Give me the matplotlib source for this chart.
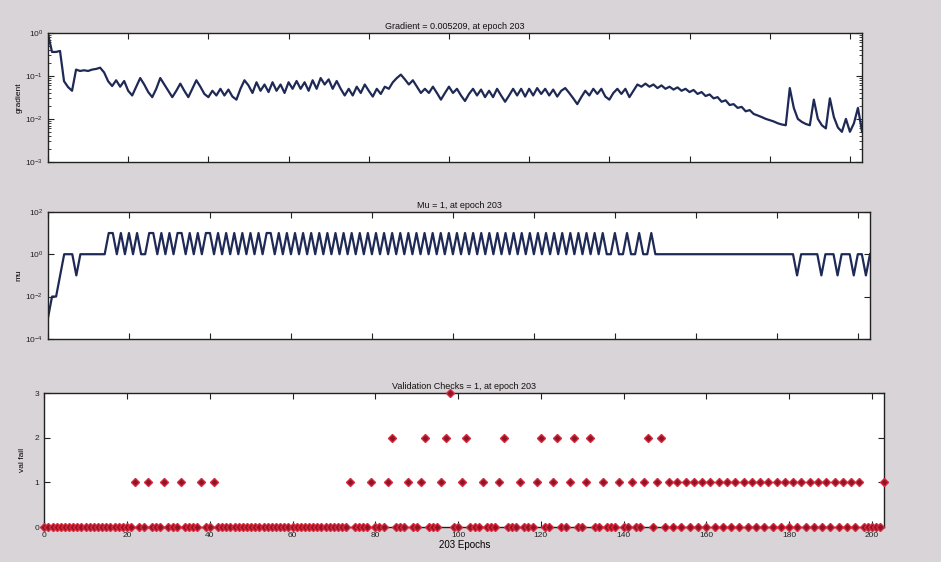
import matplotlib
matplotlib.use('Agg')
import matplotlib.pyplot as plt
from matplotlib.ticker import LogLocator, NullLocator, FixedLocator, NullFormatter

plt.rcParams['font.family'] = 'Liberation Sans'
plt.rcParams['font.size'] = 6
plt.rcParams['axes.linewidth'] = 1.0
plt.rcParams['xtick.direction'] = 'in'
plt.rcParams['ytick.direction'] = 'in'

# epochs 0..203
epochs = list(range(204))

gradient = [
    0.95, 0.36, 0.36, 0.38, 0.075, 0.055, 0.045, 0.14, 0.13, 0.135,
    0.13, 0.14, 0.145, 0.155, 0.12, 0.075, 0.058, 0.079, 0.056, 0.076,
    0.045, 0.035, 0.056, 0.089, 0.063, 0.042, 0.032, 0.05, 0.089, 0.063,
    0.045, 0.032, 0.045, 0.066, 0.045, 0.032, 0.05, 0.079, 0.056, 0.038,
    0.032, 0.045, 0.035, 0.05, 0.035, 0.048, 0.033, 0.028, 0.05, 0.079,
    0.06, 0.04, 0.071, 0.045, 0.063, 0.042, 0.071, 0.045, 0.063, 0.04,
    0.071, 0.05, 0.076, 0.05, 0.071, 0.045, 0.079, 0.05, 0.089, 0.063,
    0.083, 0.05, 0.076, 0.05, 0.035, 0.05, 0.035, 0.056, 0.04, 0.063,
    0.045, 0.033, 0.05, 0.038, 0.056, 0.05, 0.071, 0.089, 0.107, 0.083,
    0.063, 0.079, 0.056, 0.04, 0.05, 0.04, 0.056, 0.04, 0.028, 0.04,
    0.056, 0.04, 0.05, 0.035, 0.026, 0.038, 0.05, 0.035, 0.048, 0.032,
    0.045, 0.032, 0.05, 0.035, 0.025, 0.035, 0.05, 0.035, 0.05, 0.033,
    0.05, 0.035, 0.052, 0.038, 0.05, 0.035, 0.048, 0.033, 0.045, 0.052,
    0.04, 0.03, 0.022, 0.032, 0.045, 0.035, 0.05, 0.038, 0.05, 0.033,
    0.028, 0.04, 0.05, 0.038, 0.05, 0.032, 0.045, 0.063, 0.056, 0.066,
    0.056, 0.063, 0.052, 0.06, 0.05, 0.056, 0.048, 0.054, 0.045, 0.05,
    0.042, 0.047, 0.038, 0.042, 0.034, 0.037, 0.03, 0.032, 0.025, 0.027,
    0.021, 0.022, 0.018, 0.019, 0.015, 0.016, 0.013, 0.012, 0.011, 0.010,
    0.0093, 0.0087, 0.0079, 0.0074, 0.0071, 0.052, 0.018, 0.010, 0.0085, 0.0076,
    0.0071, 0.028, 0.010, 0.0071, 0.006, 0.030, 0.011, 0.0063, 0.005, 0.010,
    0.005, 0.0079, 0.018, 0.005209,
]

mu = [
    0.001, 0.01, 0.01, 0.1, 1, 1, 1, 0.1, 1, 1,
    1, 1, 1, 1, 1, 10, 10, 1, 10, 1,
    10, 1, 10, 1, 1, 10, 10, 1, 10, 1,
    10, 1, 10, 10, 1, 10, 1, 10, 1, 10,
    10, 1, 10, 1, 10, 1, 10, 1, 10, 1,
    10, 1, 10, 1, 10, 10, 1, 10, 1, 10,
    1, 10, 1, 10, 1, 10, 1, 10, 1, 10,
    1, 10, 1, 10, 1, 10, 1, 10, 1, 10,
    1, 10, 1, 10, 1, 10, 1, 10, 1, 10,
    1, 10, 1, 10, 1, 10, 1, 10, 1, 10,
    1, 10, 1, 10, 1, 10, 1, 10, 1, 10,
    1, 10, 1, 10, 1, 10, 1, 10, 1, 10,
    1, 10, 1, 10, 1, 10, 1, 10, 1, 10,
    1, 10, 1, 10, 1, 10, 1, 10, 1, 1,
    10, 1, 1, 10, 1, 1, 10, 1, 1, 10,
    1, 1, 1, 1, 1, 1, 1, 1, 1, 1,
    1, 1, 1, 1, 1, 1, 1, 1, 1, 1,
    1, 1, 1, 1, 1, 1, 1, 1, 1, 1,
    1, 1, 1, 1, 1, 0.1, 1, 1, 1, 1,
    1, 0.1, 1, 1, 1, 0.1, 1, 1, 1, 0.1,
    1, 1, 0.1, 1,
]

val_fail = [
    0, 0, 0, 0, 0, 0, 0, 0, 0, 0,
    0, 0, 0, 0, 0, 0, 0, 0, 0, 0,
    0, 0, 1, 0, 0, 1, 0, 0, 0, 1,
    0, 0, 0, 1, 0, 0, 0, 0, 1, 0,
    0, 1, 0, 0, 0, 0, 0, 0, 0, 0,
    0, 0, 0, 0, 0, 0, 0, 0, 0, 0,
    0, 0, 0, 0, 0, 0, 0, 0, 0, 0,
    0, 0, 0, 0, 1, 0, 0, 0, 0, 1,
    0, 0, 0, 1, 2, 0, 0, 0, 1, 0,
    0, 1, 2, 0, 0, 0, 1, 2, 3, 0,
    0, 1, 2, 0, 0, 0, 1, 0, 0, 0,
    1, 2, 0, 0, 0, 1, 0, 0, 0, 1,
    2, 0, 0, 1, 2, 0, 0, 1, 2, 0,
    0, 1, 2, 0, 0, 1, 0, 0, 0, 1,
    0, 0, 1, 0, 0, 1, 2, 0, 1, 2,
    0, 1, 0, 1, 0, 1, 0, 1, 0, 1,
    0, 1, 0, 1, 0, 1, 0, 1, 0, 1,
    0, 1, 0, 1, 0, 1, 0, 1, 0, 1,
    0, 1, 0, 1, 0, 1, 0, 1, 0, 1,
    0, 1, 0, 1, 0, 1, 0, 1, 0, 0,
    0, 0, 0, 1,
]

x_ticks = [0, 20, 40, 60, 80, 100, 120, 140, 160, 180, 200]
titles = ['Gradient = 0.005209, at epoch 203',
          'Mu = 1, at epoch 203',
          'Validation Checks = 1, at epoch 203']

line_color = '#1e2a55'
bg = '#d9d4d7'

fig = plt.figure(figsize=(9.41, 5.62), dpi=100, facecolor=bg)

ax1 = fig.add_axes([0.051, 0.712, 0.865, 0.2295])
ax2 = fig.add_axes([0.051, 0.397, 0.8735, 0.226])
ax3 = fig.add_axes([0.047, 0.062, 0.8927, 0.2384])

# gradient
ax1.semilogy(epochs, gradient, color=line_color, linewidth=1.6)
ax1.set_ylim(1e-3, 1e0)
ax1.yaxis.set_major_locator(LogLocator(base=10, numticks=10))
ax1.yaxis.set_minor_locator(LogLocator(base=10, subs=range(2, 10), numticks=20))
ax1.yaxis.set_minor_formatter(NullFormatter())
ax1.set_ylabel('gradient', fontsize=6, labelpad=2)

# mu
ax2.semilogy(epochs, mu, color=line_color, linewidth=1.6)
ax2.set_ylim(1e-4, 1e2)
ax2.yaxis.set_major_locator(FixedLocator([1e-4, 1e-2, 1e0, 1e2]))
ax2.yaxis.set_minor_locator(NullLocator())
ax2.set_ylabel('mu', fontsize=6, labelpad=2)

# validation checks
ax3.plot(epochs, val_fail, linestyle='none', marker='D', markersize=4.5,
         markerfacecolor='#8e1426', markeredgecolor='#d8283c',
         markeredgewidth=1.0, clip_on=False, zorder=5)
ax3.set_ylim(0, 3)
ax3.set_yticks([0, 1, 2, 3])
ax3.set_ylabel('val fail', fontsize=6, labelpad=6)
ax3.set_xlabel('203 Epochs', fontsize=7, labelpad=1)

for ax, t in zip([ax1, ax2, ax3], titles):
    ax.set_facecolor('white')
    ax.set_xlim(0, 203)
    ax.set_xticks(x_ticks)
    ax.tick_params(axis='both', which='both', top=True, right=True,
                   labelsize=6, colors='#222222')
    ax.tick_params(axis='both', which='major', length=4, width=0.8)
    ax.tick_params(axis='y', which='minor', length=2, width=0.6)
    ax.set_title(t, fontsize=6.5, pad=3, color='#111111')
    for s in ax.spines.values():
        s.set_color('#222222')

ax1.tick_params(axis='x', labelbottom=False)
ax2.tick_params(axis='x', labelbottom=False)

fig.savefig('out.png', dpi=100, facecolor=bg)
